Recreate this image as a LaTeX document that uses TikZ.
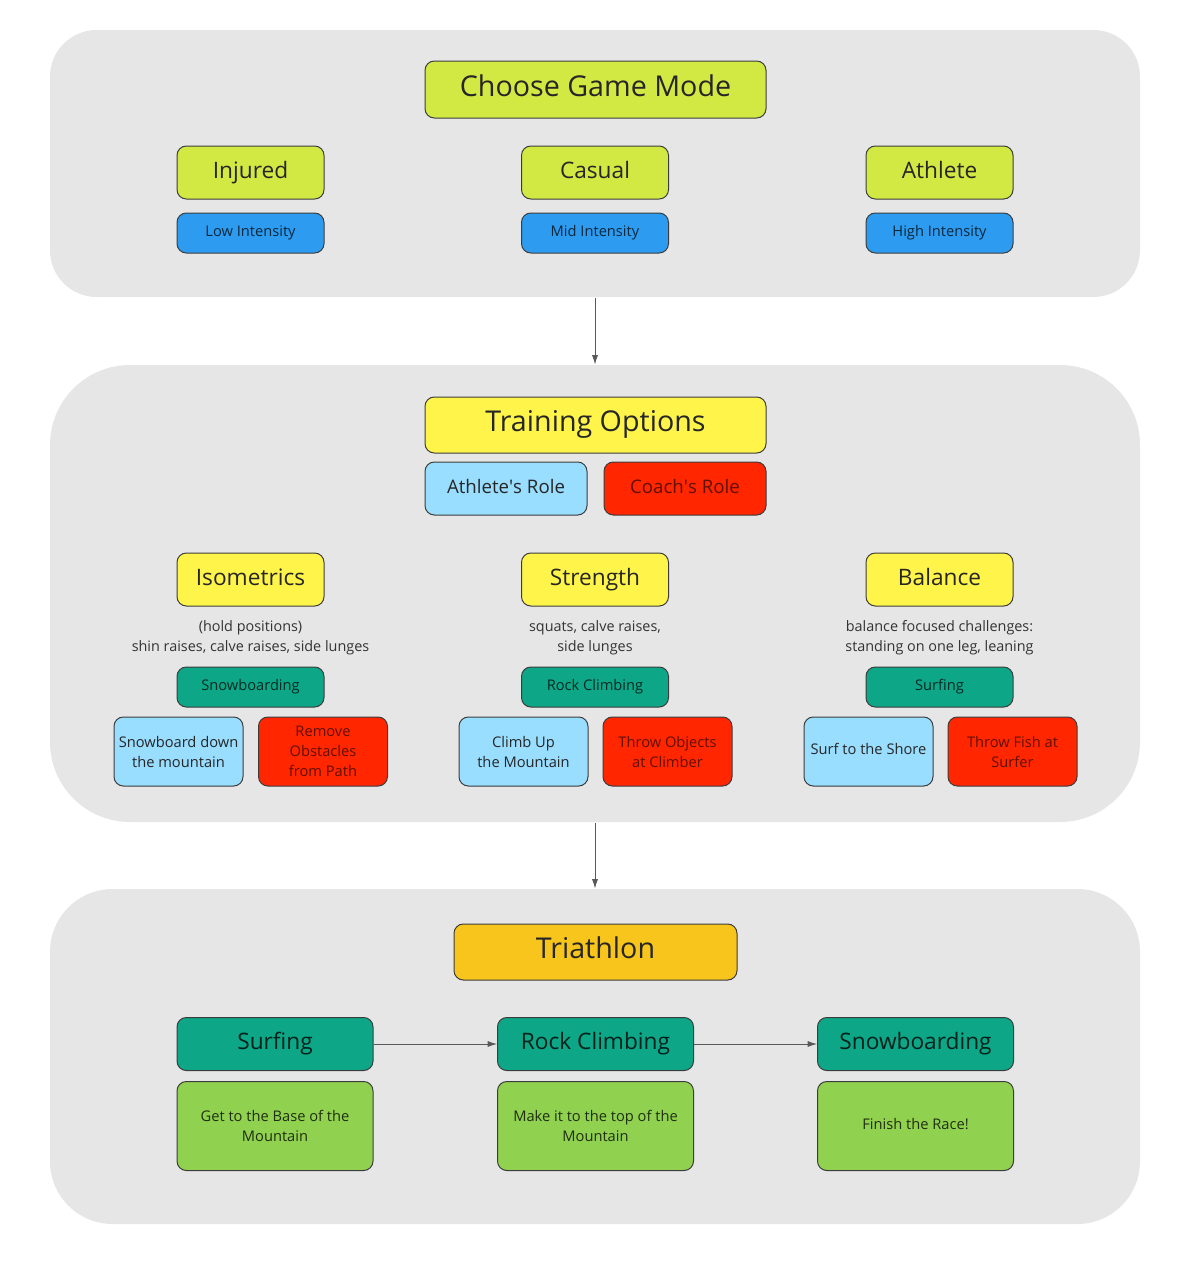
\documentclass[tikz,border=0pt]{standalone}
\usepackage{fontspec}
\setmainfont{Open Sans}
\usetikzlibrary{arrows.meta}
\definecolor{panelGray}{RGB}{230,230,230}
\definecolor{boxLine}{RGB}{60,60,60}
\definecolor{modeLime}{RGB}{210,232,67}
\definecolor{levelBlue}{RGB}{45,156,240}
\definecolor{optYellow}{RGB}{255,244,74}
\definecolor{roleBlue}{RGB}{153,221,255}
\definecolor{roleRed}{RGB}{255,38,0}
\definecolor{sportTeal}{RGB}{13,166,135}
\definecolor{triOrange}{RGB}{248,197,28}
\definecolor{goalGreen}{RGB}{144,209,79}
\tikzset{every picture/.style={line width=0.75pt}}
\tikzset{
	wh/.style 2 args={minimum width=#1*0.75pt, minimum height=#2*0.75pt},
	panel/.style={fill=panelGray, inner sep=0pt},
	box/.style={draw=boxLine, rounded corners=7pt, align=center, inner sep=0pt, text=black!85},
	oneline/.style 2 args={text height=#1, text depth=#2},
	big/.style={oneline={15.8pt}{5.4pt}, font=\fontsize{21.5}{26}\selectfont},
	mid/.style={oneline={13.1pt}{4.3pt}, font=\fontsize{17}{20}\selectfont},
	role/.style={oneline={10.7pt}{3.5pt}, font=\fontsize{14}{18}\selectfont},
	small/.style={font=\fontsize{11}{15}\selectfont},
	tag/.style={small, oneline={8pt}{2.8pt}},
	note/.style={align=center, text=black!80, font=\fontsize{10.8}{15}\selectfont},
	redtext/.style={text=roleRed!38!black},
	arr/.style={draw=black!65, line width=0.6pt, -{Latex[length=7pt,width=4.5pt]}}
}

\begin{document}
\begin{tikzpicture}[x=0.75pt,y=0.75pt,yscale=-1,xscale=1]
	\useasboundingbox (0,0) rectangle (1178,1264);

	% Panels
	\node [panel, wh={1090}{267}, rounded corners=35pt] (modePanel) at (595,163.5) {};
	\node [panel, wh={1090}{457}, rounded corners=60pt] (trainPanel) at (595,593.5) {};
	\node [panel, wh={1090}{335}, rounded corners=47pt] (triPanel) at (595,1056.5) {};

	% Game mode
	\node [box, big, fill=modeLime, wh={341}{57}] (choose) at (595.5,89.5) {Choose Game Mode};
	\node [box, mid, fill=modeLime, wh={147}{53}] (injured) at (250.5,172.5) {Injured};
	\node [box, mid, fill=modeLime, wh={147}{53}] (casual) at (595,172.5) {Casual};
	\node [box, mid, fill=modeLime, wh={147}{53}] (athlete) at (939.5,172.5) {Athlete};
	\node [box, tag, fill=levelBlue, wh={147}{40}, text=levelBlue!25!black] (low) at (250.5,233) {Low Intensity};
	\node [box, tag, fill=levelBlue, wh={147}{40}, text=levelBlue!25!black] (midInt) at (595,233) {Mid Intensity};
	\node [box, tag, fill=levelBlue, wh={147}{40}, text=levelBlue!25!black] (high) at (939.5,233) {High Intensity};

	% Training options
	\node [box, big, fill=optYellow, wh={341}{56}] (options) at (595.5,425) {Training Options};
	\node [box, role, fill=roleBlue, wh={162}{53}] (athRole) at (506,488.5) {Athlete\textquotesingle s Role};
	\node [box, role, fill=roleRed, wh={162}{53}, redtext] (coachRole) at (685,488.5) {Coach\textquotesingle s Role};

	\node [box, mid, fill=optYellow, wh={147}{53}] (iso) at (250.5,579.5) {Isometrics};
	\node [box, mid, fill=optYellow, wh={147}{53}] (strength) at (595,579.5) {Strength};
	\node [box, mid, fill=optYellow, wh={147}{53}] (balance) at (939.5,579.5) {Balance};

	\node [note] (isoNote) at (250.5,637.5) {(hold positions)\\shin raises, calve raises, side lunges};
	\node [note] (strNote) at (595,637.5) {squats, calve raises,\\side lunges};
	\node [note] (balNote) at (939.5,637.5) {balance focused challenges:\\standing on one leg, leaning};

	\node [box, tag, fill=sportTeal, wh={147}{40}, text=sportTeal!25!black] (snow) at (250.5,687) {Snowboarding};
	\node [box, tag, fill=sportTeal, wh={147}{40}, text=sportTeal!25!black] (rock) at (595,687) {Rock Climbing};
	\node [box, tag, fill=sportTeal, wh={147}{40}, text=sportTeal!25!black] (surf) at (939.5,687) {Surfing};

	\node [box, small, fill=roleBlue, wh={129}{69}] (snowAth) at (178.5,751.5) {Snowboard down\\the mountain};
	\node [box, small, fill=roleRed, wh={129}{69}, redtext] (snowCoach) at (323,751.5) {Remove\\Obstacles\\from Path};
	\node [box, small, fill=roleBlue, wh={129}{69}] (rockAth) at (523.5,751.5) {Climb Up\\the Mountain};
	\node [box, small, fill=roleRed, wh={129}{69}, redtext] (rockCoach) at (667.5,751.5) {Throw Objects\\at Climber};
	\node [box, tag, fill=roleBlue, wh={129}{69}] (surfAth) at (868.5,751.5) {Surf to the Shore};
	\node [box, small, fill=roleRed, wh={129}{69}, redtext] (surfCoach) at (1012.5,751.5) {Throw Fish at\\Surfer};

	% Triathlon
	\node [box, big, fill=triOrange, wh={283}{56}] (triathlon) at (595.5,952) {Triathlon};
	\node [box, mid, fill=sportTeal, wh={196}{53}, text=sportTeal!20!black] (triSurf) at (275,1044) {Surfing};
	\node [box, mid, fill=sportTeal, wh={196}{53}, text=sportTeal!20!black] (triRock) at (595.5,1044) {Rock Climbing};
	\node [box, mid, fill=sportTeal, wh={196}{53}, text=sportTeal!20!black] (triSnow) at (915.5,1044) {Snowboarding};
	\node [box, small, fill=goalGreen, wh={196}{89}, text=goalGreen!22!black] (goalSurf) at (275,1126) {Get to the Base of the\\Mountain};
	\node [box, small, fill=goalGreen, wh={196}{89}, text=goalGreen!22!black] (goalRock) at (595.5,1126) {Make it to the top of the\\Mountain};
	\node [box, tag, fill=goalGreen, wh={196}{89}, text=goalGreen!22!black] (goalSnow) at (915.5,1126) {Finish the Race!};

	% Connectors
	\draw [arr] (modePanel.south) -- (trainPanel.north);
	\draw [arr] (trainPanel.south) -- (triPanel.north);
	\draw [arr] (triSurf) -- (triRock);
	\draw [arr] (triRock) -- (triSnow);

\end{tikzpicture}
\end{document}
